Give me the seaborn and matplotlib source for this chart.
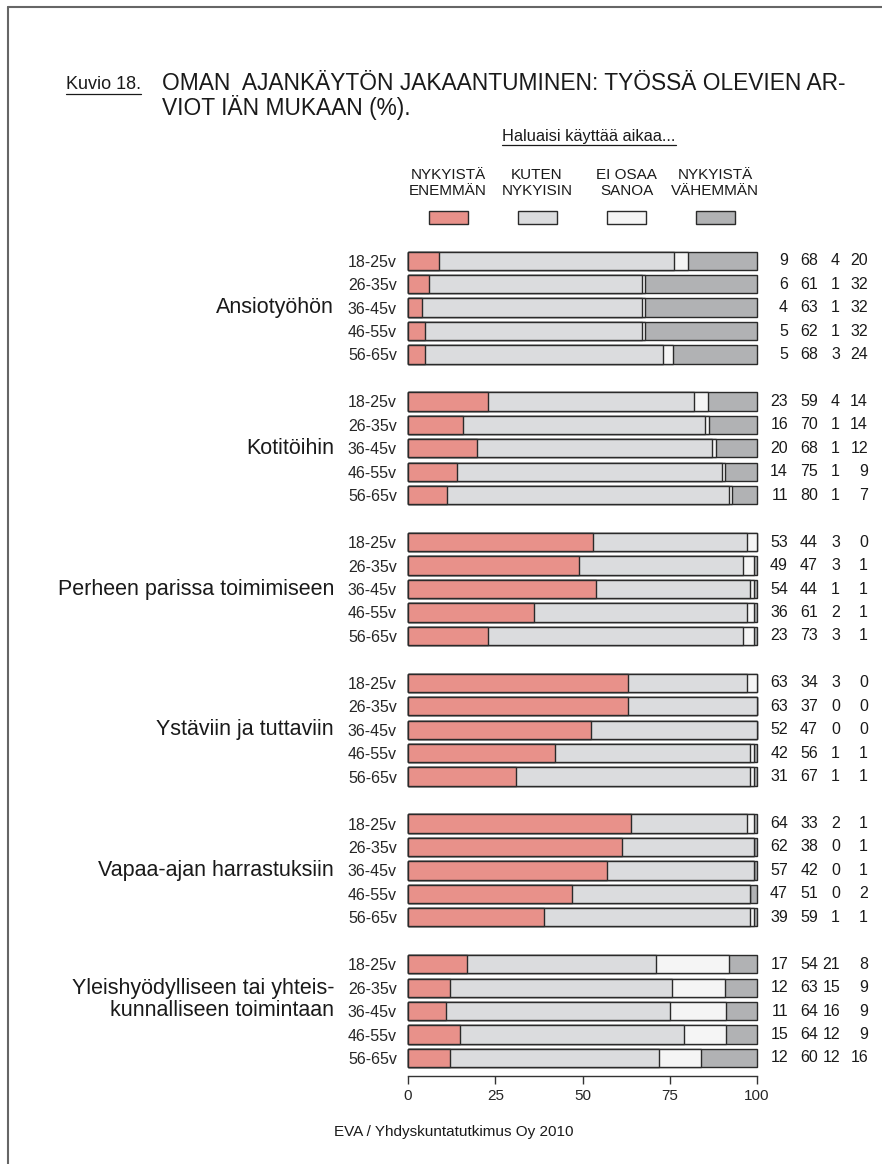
import numpy as np
import pandas as pd
import matplotlib.pyplot as plt
import seaborn as sns
from matplotlib.patches import Rectangle
from matplotlib.lines import Line2D
from matplotlib.transforms import blended_transform_factory

categories = ["Ansiotyöhön", "Kotitöihin", "Perheen parissa toimimiseen",
              "Ystäviin ja tuttaviin", "Vapaa-ajan harrastuksiin",
              "Yleishyödylliseen tai yhteis-\nkunnalliseen toimintaan"]
ages = ["18-25v", "26-35v", "36-45v", "46-55v", "56-65v"]
series = ["NYKYISTÄ\nENEMMÄN", "KUTEN\nNYKYISIN", "EI OSAA\nSANOA", "NYKYISTÄ\nVÄHEMMÄN"]
colors = ["#E8918A", "#DBDCDE", "#F5F5F5", "#B1B2B4"]

enemman = [9, 6, 4, 5, 5, 23, 16, 20, 14, 11, 53, 49, 54, 36, 23,
           63, 63, 52, 42, 31, 64, 62, 57, 47, 39, 17, 12, 11, 15, 12]
kuten = [68, 61, 63, 62, 68, 59, 70, 68, 75, 80, 44, 47, 44, 61, 73,
         34, 37, 47, 56, 67, 33, 38, 42, 51, 59, 54, 63, 64, 64, 60]
ei_osaa = [4, 1, 1, 1, 3, 4, 1, 1, 1, 1, 3, 3, 1, 2, 3,
           3, 0, 0, 1, 1, 2, 0, 0, 0, 1, 21, 15, 16, 12, 12]
vahemman = [20, 32, 32, 32, 24, 14, 14, 12, 9, 7, 0, 1, 1, 1, 1,
            0, 0, 0, 1, 1, 1, 1, 1, 2, 1, 8, 9, 9, 9, 16]

W, H = 882, 1164


def fx(x):
    return x / W


def fy(y):
    return 1 - y / H


sns.set_theme(style="white")
plt.rcParams["font.family"] = ["Liberation Sans", "DejaVu Sans"]
plt.rcParams["text.color"] = "#1a1a1a"

# table of rows, with an empty slot between the groups
keys, order = [], []
for g, cat in enumerate(categories):
    for a in ages:
        keys.append(f"{g}|{a}")
        order.append(f"{g}|{a}")
    if g < len(categories) - 1:
        order.append(f"gap{g}")

vals = np.array([enemman, kuten, ei_osaa, vahemman], dtype=float).T
tot = vals.sum(axis=1)
cum = vals.cumsum(axis=1) / tot[:, None] * 100
df = pd.DataFrame({"key": keys})
for j in range(4):
    df[f"c{j}"] = cum[:, j]

fig = plt.figure(figsize=(W / 100, H / 100), dpi=100)
row0, step = 260.7, 23.45
ybot = 34.75
top_px = row0 - 0.5 * step
bot_px = row0 + ybot * step
ax = fig.add_axes([fx(408), fy(bot_px), fx(757) - fx(408), (bot_px - top_px) / H])

for j in reversed(range(4)):
    sns.barplot(data=df, x=f"c{j}", y="key", order=order, orient="h",
                color=colors[j], saturation=1, width=0.78, errorbar=None,
                edgecolor="#2a2a2a", linewidth=1.0, ax=ax)
for p in ax.patches:
    p.set_clip_on(False)

ax.set_xlim(0, 100)
ax.set_ylim(ybot, -0.5)
ax.set_xlabel("")
ax.set_ylabel("")
ax.set_xticks([0, 25, 50, 75, 100])
ax.tick_params(axis="x", length=6, width=1, color="#333333", pad=4,
               labelsize=11, bottom=True)
ypos = [order.index(k) for k in keys]
ax.set_yticks(ypos)
ax.set_yticklabels([k.split("|")[1] for k in keys])
ax.tick_params(axis="y", length=0, pad=8, labelsize=11.5)
for s in ["left", "top", "right"]:
    ax.spines[s].set_visible(False)
ax.spines["bottom"].set_color("#333333")
ax.spines["bottom"].set_linewidth(1)

trans = blended_transform_factory(fig.transFigure, ax.transData)
for g, cat in enumerate(categories):
    yc = g * 6 + (1.5 if "\n" in cat else 2)
    ax.text(fx(334), yc, cat, transform=trans, ha="right", va="center",
            fontsize=15.5, linespacing=1.08, clip_on=False)

col_x = [788, 818, 840, 868]
for i, k in enumerate(keys):
    for j in range(4):
        ax.text(fx(col_x[j]), ypos[i], f"{int(vals[i, j])}", transform=trans,
                ha="right", va="center", fontsize=11.5, clip_on=False)

# legend
box_c = [448, 537, 626.5, 715]
for j in range(4):
    fig.text(fx(box_c[j]), fy(183), series[j], ha="center", va="center",
             fontsize=11, linespacing=1.15)
    fig.add_artist(Rectangle((fx(box_c[j] - 19.5), fy(224)), 39 / W, 13 / H,
                             transform=fig.transFigure, facecolor=colors[j],
                             edgecolor="#2a2a2a", linewidth=1.0))

# titles
t_kuvio = fig.text(fx(66), fy(89), "Kuvio 18.", ha="left", va="baseline",
                   fontsize=13)
fig.text(fx(162), fy(83), "OMAN  AJANKÄYTÖN JAKAANTUMINEN: TYÖSSÄ OLEVIEN AR-",
         ha="left", va="center", fontsize=16.4)
fig.text(fx(162), fy(107), "VIOT IÄN MUKAAN (%).", ha="left", va="center",
         fontsize=16.4)
t_hal = fig.text(fx(589), fy(137), "Haluaisi käyttää aikaa...", ha="center",
                 va="center", fontsize=11.8)
fig.text(fx(454), fy(1132), "EVA / Yhdyskuntatutkimus Oy 2010", ha="center",
         va="center", fontsize=11)

# underlines
fig.canvas.draw()
inv = fig.transFigure.inverted()
for t in [t_kuvio, t_hal]:
    bb = t.get_window_extent()
    (x0, y0), (x1, _) = inv.transform([[bb.x0, bb.y0], [bb.x1, bb.y1]])
    fig.add_artist(Line2D([x0, x1], [y0 - 0.6 / H, y0 - 0.6 / H],
                          transform=fig.transFigure, color="#1a1a1a", lw=0.9))

# frame
fig.add_artist(Line2D([fx(8), fx(8)], [0, fy(7)], transform=fig.transFigure,
                      color="#666666", lw=1.5))
fig.add_artist(Line2D([fx(8), 1], [fy(7), fy(7)], transform=fig.transFigure,
                      color="#666666", lw=1.5))

fig.savefig("out.png", dpi=100)
